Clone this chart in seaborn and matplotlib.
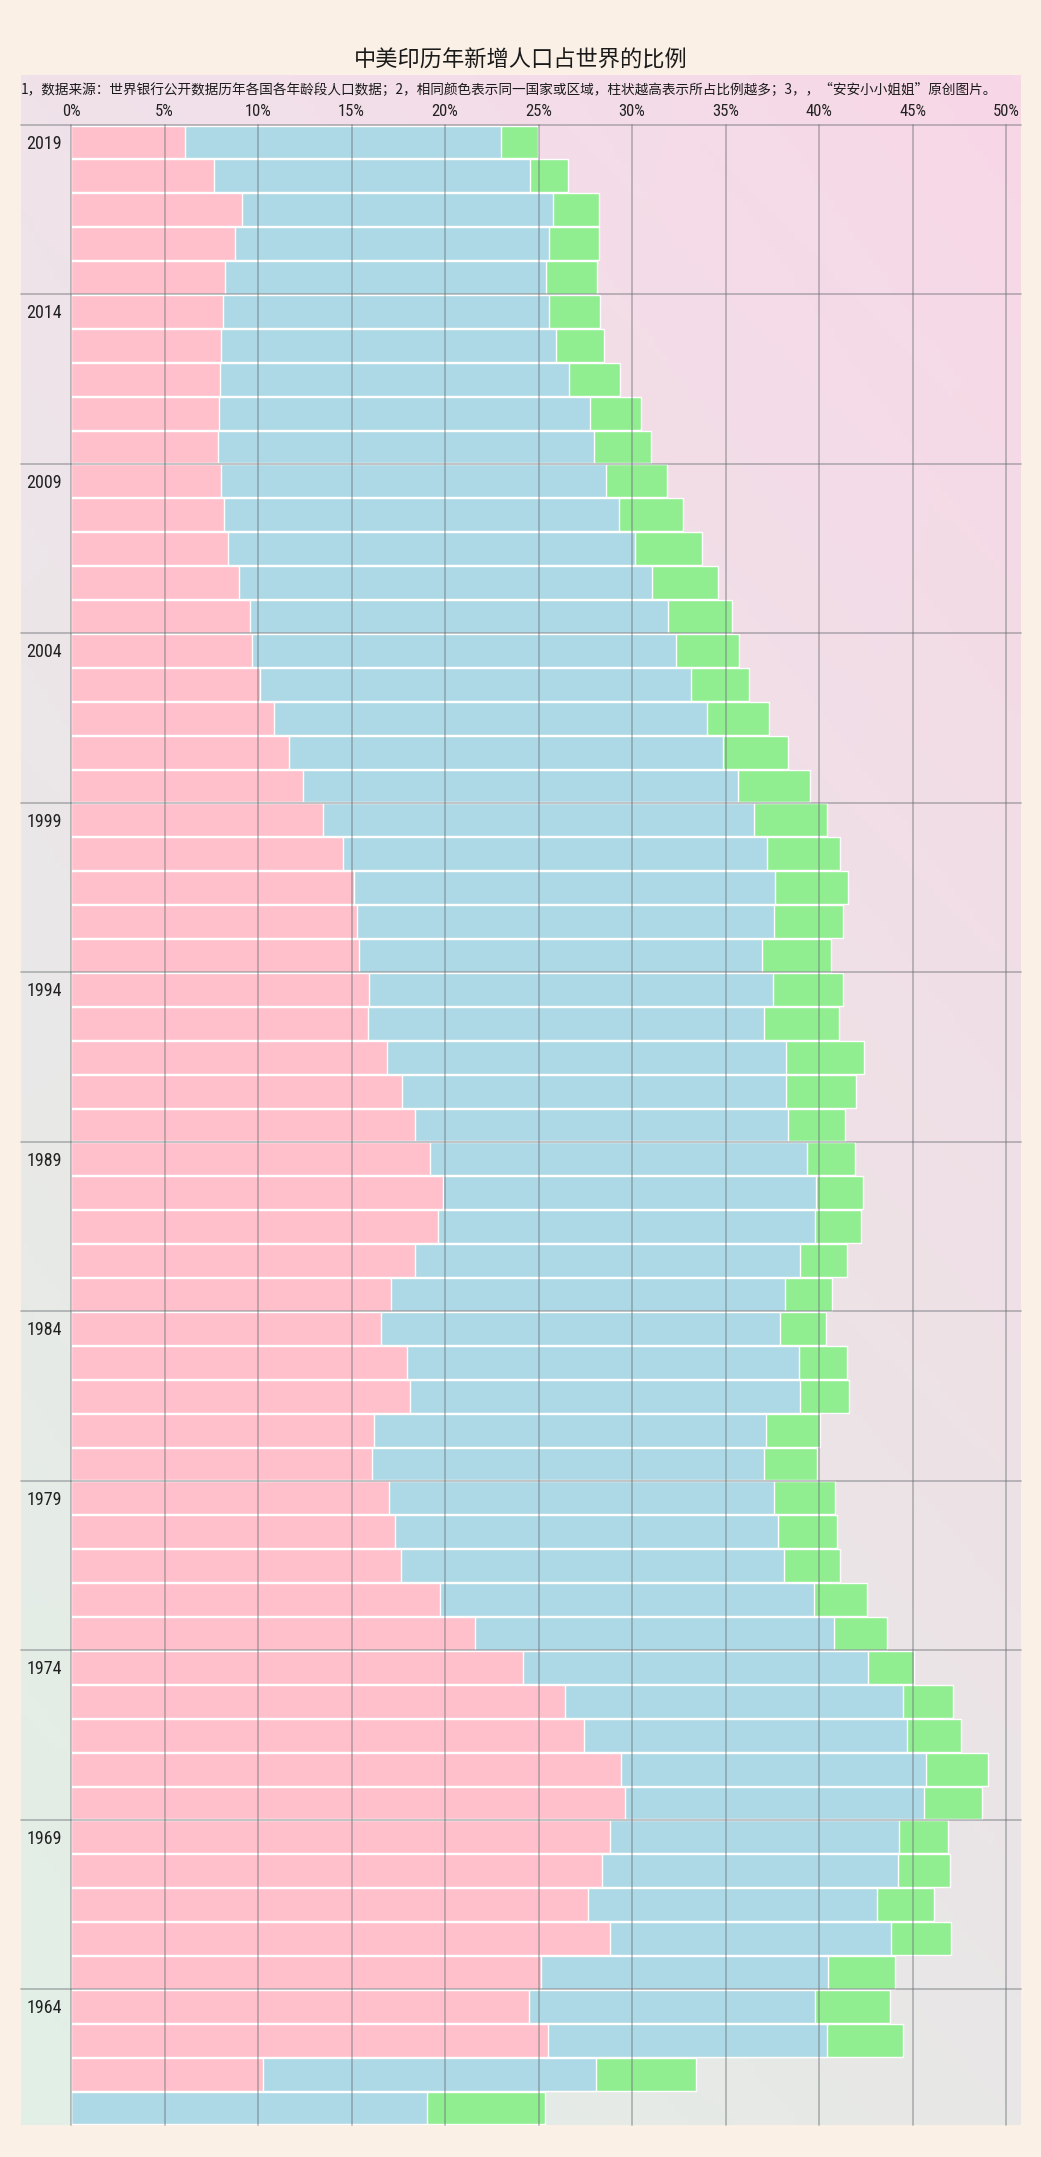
import numpy as np
import pandas as pd
import matplotlib
matplotlib.use("Agg")
import matplotlib.pyplot as plt
import seaborn as sns
from matplotlib import font_manager as fm
from matplotlib.colors import to_rgb

# ---------------- data (share of world births, %) ----------------
years = list(range(2019, 1960, -1))
china = [6.12, 7.67, 9.13, 8.76, 8.23, 8.13, 8.00, 7.97, 7.94, 7.87,
         8.00, 8.20, 8.40, 8.99, 9.56, 9.69, 10.12, 10.85, 11.64, 12.43,
         13.46, 14.52, 15.15, 15.31, 15.38, 15.91, 15.87, 16.90, 17.72, 18.39,
         19.21, 19.87, 19.64, 18.42, 17.10, 16.57, 17.96, 18.15, 16.20, 16.07,
         17.03, 17.30, 17.66, 19.71, 21.59, 24.17, 26.39, 27.41, 29.40, 29.60,
         28.84, 28.37, 27.65, 28.84, 25.13, 24.50, 25.50, 10.28, 0.00]
india = [16.88, 16.87, 16.66, 16.80, 17.17, 17.43, 17.93, 18.65, 19.80, 20.07,
         20.60, 21.10, 21.76, 22.09, 22.38, 22.68, 23.01, 23.14, 23.25, 23.22,
         23.05, 22.72, 22.48, 22.26, 21.56, 21.62, 21.20, 21.36, 20.51, 19.94,
         20.14, 19.98, 20.17, 20.54, 21.09, 21.33, 20.96, 20.81, 20.97, 20.97,
         20.54, 20.53, 20.44, 20.04, 19.22, 18.46, 18.12, 17.30, 16.33, 16.00,
         15.44, 15.84, 15.47, 15.01, 15.35, 15.28, 14.91, 17.80, 19.05]
usa = [1.97, 2.01, 2.42, 2.68, 2.74, 2.75, 2.57, 2.75, 2.72, 3.08,
       3.28, 3.44, 3.57, 3.54, 3.41, 3.34, 3.11, 3.34, 3.47, 3.87,
       3.90, 3.86, 3.94, 3.70, 3.70, 3.74, 4.00, 4.17, 3.77, 3.07,
       2.58, 2.51, 2.42, 2.54, 2.52, 2.48, 2.58, 2.64, 2.88, 2.84,
       3.27, 3.11, 3.00, 2.81, 2.81, 2.44, 2.65, 2.88, 3.31, 3.14,
       2.64, 2.78, 3.04, 3.21, 3.60, 4.00, 4.10, 5.32, 6.28]
xticks = list(range(0, 51, 5))
xtick_labels = [f"{v}%" for v in xticks]

title = "中美印历年新增人口占世界的比例"
subtitle = ("1，数据来源：世界银行公开数据历年各国各年龄段人口数据；2，相同颜色表示同一国家或区域，"
            "柱状越高表示所占比例越多；3，，“安安小小姐姐”原创图片。")

# ---------------- style ----------------
sns.set_theme(style="white")


def pick(fams):
    out = []
    for f in fams:
        try:
            fm.findfont(fm.FontProperties(family=f), fallback_to_default=False)
            out.append(f)
        except Exception:
            pass
    return out


num_font = pick(["Liberation Sans Narrow", "Roboto Condensed", "Liberation Sans", "DejaVu Sans"])
cjk = ["Noto Sans CJK SC", "DejaVu Sans"]
plt.rcParams["font.family"] = cjk

W, H = 1041, 2157
fig = plt.figure(figsize=(W / 100, H / 100), dpi=100, facecolor="#FAF0E6")

# gradient background panel
bgax = fig.add_axes([21 / W, 1 - 2125 / H, 1000 / W, 2050 / H], zorder=0)
tl, tr = np.array(to_rgb("#F0E2EA")), np.array(to_rgb("#F8D7E7"))
bl, br = np.array(to_rgb("#E1F0E6")), np.array(to_rgb("#E8E7E6"))
ny, nx = 300, 150
v = np.linspace(0, 1, ny)[:, None, None]
u = np.linspace(0, 1, nx)[None, :, None]
grad = (1 - v) * ((1 - u) * tl + u * tr) + v * ((1 - u) * bl + u * br)
bgax.imshow(grad, extent=[0, 1, 0, 1], aspect="auto", origin="upper")
bgax.axis("off")

# main axes
ax = fig.add_axes([71 / W, 1 - 2125 / H, 950 / W, 2000 / H], zorder=1)
ax.patch.set_alpha(0)

df = pd.DataFrame({"year": [str(y) for y in years], "china": china,
                   "india": india, "usa": usa})
df["c1"] = df["china"]
df["c2"] = df["c1"] + df["india"]
df["c3"] = df["c2"] + df["usa"]
order = df["year"].tolist()

for col, colr in [("c3", "#90EE90"), ("c2", "#ADD8E6"), ("c1", "#FFC0CB")]:
    sns.barplot(data=df, x=col, y="year", order=order, orient="h", color=colr,
                saturation=1, width=0.97, edgecolor="white", linewidth=1.0,
                errorbar=None, ax=ax)

ax.set_xlim(0, 50.8)
ax.set_ylim(58.5, -0.5)
ax.set_xlabel("")
ax.set_ylabel("")
for s in ax.spines.values():
    s.set_visible(False)

ax.set_xticks(xticks)
ax.set_xticklabels(xtick_labels, family=num_font, fontsize=12, color="#222222")
ax.xaxis.tick_top()
ax.tick_params(axis="x", length=0, pad=4)

ax.set_yticks(list(range(0, 59, 5)))
ax.set_yticklabels([str(y) for y in years[::5]], family=num_font, fontsize=13,
                   color="#222222")
ax.tick_params(axis="y", length=0, pad=6.5)
ax.grid(False)

gc = "#6a6f74"
for xv in xticks:
    ax.axvline(xv, color=gc, alpha=0.45, lw=1.3, zorder=5, clip_on=False)
for k in range(0, 59, 5):
    ax.axhline(k - 0.5, xmin=-50 / 950, xmax=1, color=gc, alpha=0.45, lw=1.3,
               zorder=5, clip_on=False)

fig.text(0.5, 1 - 60 / H, title, ha="center", va="center", fontsize=16,
         color="#1a1a1a")
fig.text(21 / W, 1 - 90 / H, subtitle, ha="left", va="center", fontsize=9.8,
         color="#1a1a1a")

fig.savefig("out.png", dpi=100, facecolor=fig.get_facecolor())
